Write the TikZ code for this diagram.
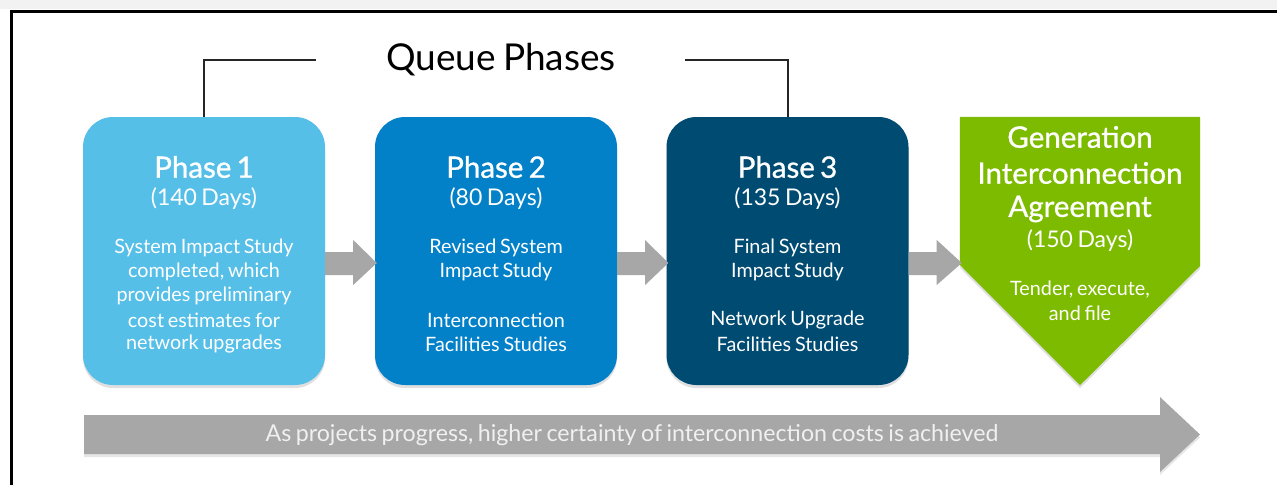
\documentclass[tikz,border=0pt]{standalone}
\usepackage{fontspec}
\setmainfont{Lato}[WordSpace=0.75]
\newfontfamily\headfont{Lato}[FakeBold=1.0, WordSpace=0.7]
\usetikzlibrary{calc,shadows}
\definecolor{cPone}{HTML}{56BFE8}
\definecolor{cPtwo}{HTML}{0281C9}
\definecolor{cPthree}{HTML}{004B72}
\definecolor{cGreen}{HTML}{7DBB00}
\definecolor{cArrow}{HTML}{A7A7A8}
\definecolor{cBand}{HTML}{F2F2F2}
\definecolor{cBarText}{HTML}{F0F0F0}
\tikzset{
  phasebox/.style={rounded corners=30pt, minimum width=242pt, minimum height=268pt, inner sep=0pt,
    drop shadow={opacity=0.25, shadow xshift=0pt, shadow yshift=-3pt}},
  headtxt/.style={text=white, font=\headfont\fontsize{29.5}{34}\selectfont, inner sep=0pt},
  daystxt/.style={text=white, font=\fontsize{23}{27}\selectfont, inner sep=0pt},
  bodytxt/.style={text=white, font=\fontsize{19.8}{23}\selectfont, inner sep=0pt},
  garrow/.style={fill=cArrow},
  brackline/.style={line width=2pt, draw=black!85}
}
\begin{document}
\begin{tikzpicture}[x=1pt,y=-1pt]
\useasboundingbox (0,0) rectangle (1277,485);
% frame
\fill[cBand] (0,0) rectangle (1277,9);
\draw[line width=3pt] (11,485) -- (11,11.5) -- (1277,11.5);

% boxes
\node[phasebox, fill=cPone]   (p1) at (204,251) {};
\node[phasebox, fill=cPtwo]   (p2) at (496,251) {};
\node[phasebox, fill=cPthree] (p3) at (787.5,251) {};
\node[inner sep=0pt, minimum width=240pt, minimum height=268pt] (g) at (1080,251) {};
\fill[cGreen, drop shadow={opacity=0.25, shadow xshift=0pt, shadow yshift=-3pt}]
  (g.north west) -- (g.north east) -- ($(g.north east)+(0,149)$) -- (g.south) -- ($(g.north west)+(0,148)$) -- cycle;

% title and brackets
\node[font=\fontsize{37}{42}\selectfont, inner sep=0pt] (title) at (501,60) {Queue Phases};
\coordinate (bl) at (316,60);
\coordinate (br) at (685,60);
\draw[brackline] (bl) -| (p1.north);
\draw[brackline] (br) -| (p3.north);

% small arrows
\foreach \a/\b in {p1/p2, p2/p3, p3/g}{
  \fill[garrow] ($(\a.east)+(0,1)$) -- ($(\a.east)+(28,1)$) -- ($(\a.east)+(28,-11)$)
     -- ($(\b.west)+(2,12)$) -- ($(\a.east)+(28,34)$) -- ($(\a.east)+(28,24)$) -- ($(\a.east)+(0,24)$) -- cycle;
}

% Phase 1 text
\node[headtxt] (h1) at (204,167) {Phase 1};
\node[daystxt] (d1) at (204,199) {(140 Days)};
\node[bodytxt] at (204,248) {System Impact Study};
\node[bodytxt] at (204,272) {completed, which};
\node[bodytxt] at (204,296) {provides preliminary};
\node[bodytxt] at (204,320) {cost estimates for};
\node[bodytxt] at (204,344) {network upgrades};

% Phase 2 text
\node[headtxt] (h2) at (496,167) {Phase 2};
\node[daystxt] (d2) at (496,199) {(80 Days)};
\node[bodytxt] at (496,248) {Revised System};
\node[bodytxt] at (496,272) {Impact Study};
\node[bodytxt] at (496,320) {Interconnection};
\node[bodytxt] at (496,344) {Facilities Studies};

% Phase 3 text
\node[headtxt] (h3) at (787.5,167) {Phase 3};
\node[daystxt] (d3) at (787.5,199) {(135 Days)};
\node[bodytxt] at (787.5,248) {Final System};
\node[bodytxt] at (787.5,272) {Impact Study};
\node[bodytxt] at (787.5,320) {Network Upgrade};
\node[bodytxt] at (787.5,344) {Facilities Studies};

% Green text
\node[headtxt] at (1080,137) {Generation};
\node[headtxt] at (1080,173) {Interconnection};
\node[headtxt] at (1080,209) {Agreement};
\node[daystxt] at (1080,241) {(150 Days)};
\node[bodytxt] at (1080,290) {Tender, execute,};
\node[bodytxt] at (1080,313) {and file};

% bottom arrow
\coordinate (bs) at (84,434.5);
\coordinate (bt) at (1200,434.5);
\fill[garrow, drop shadow={opacity=0.2, shadow xshift=0pt, shadow yshift=-3pt}]
  ($(bs)+(0,-19.5)$) -- ($(bt)+(-40,-19.5)$) -- ($(bt)+(-40,-37.5)$) -- (bt)
  -- ($(bt)+(-40,37.5)$) -- ($(bt)+(-40,19.5)$) -- ($(bs)+(0,19.5)$) -- cycle;
\node[text=cBarText, font=\fontsize{23.2}{27}\selectfont, inner sep=0pt] (bar) at (632,435)
  {As projects progress, higher certainty of interconnection costs is achieved};
\end{tikzpicture}
\end{document}
